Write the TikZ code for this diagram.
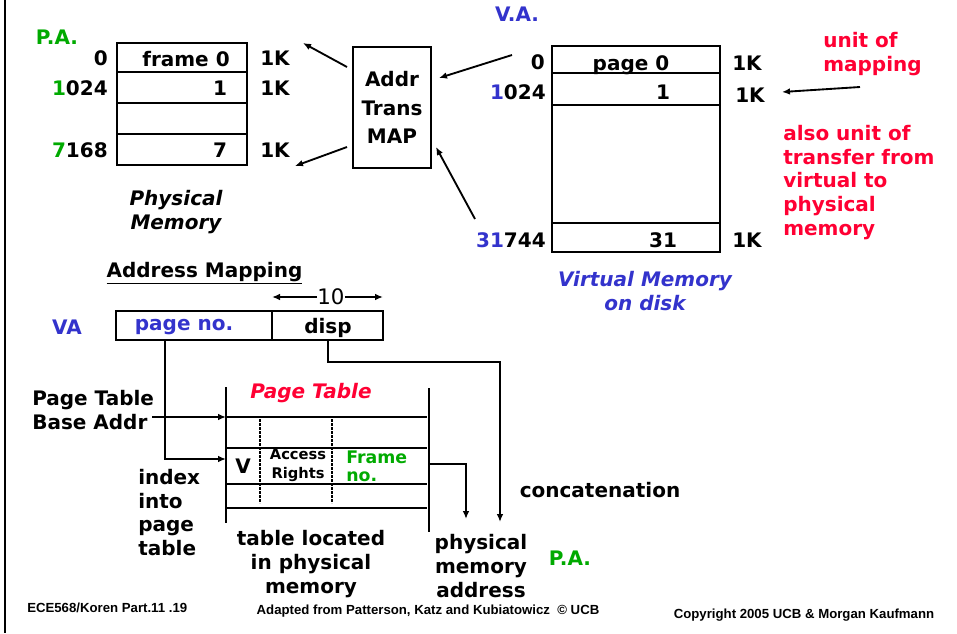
\documentclass[tikz,border=0pt]{standalone}
\usepackage{fontspec}
\setmainfont{DejaVu Sans}
\newfontfamily\arialf{Liberation Sans}
\usetikzlibrary{arrows.meta}
\definecolor{pagreen}{RGB}{0,170,0}
\definecolor{vablue}{RGB}{51,51,204}
\definecolor{rred}{RGB}{255,0,51}
\begin{document}
\begin{tikzpicture}[x=0.75pt,y=-0.75pt,
  txt/.style={inner sep=0pt, font=\fontsize{15}{18}\selectfont\bfseries},
  itx/.style={inner sep=0pt, font=\fontsize{15}{17.5}\selectfont\bfseries\itshape},
  small/.style={inner sep=0pt, font=\fontsize{11}{14}\selectfont\bfseries},
  foot/.style={inner sep=0pt, font=\arialf\fontsize{9.9}{11}\selectfont\bfseries},
  cell/.style={draw, line width=1.5pt, inner sep=0pt},
  conn/.style={line width=1.5pt},
  arr/.style={line width=1.4pt, -{Latex[length=6pt,width=5pt]}},
  ptline/.style={line width=1.6pt},
  dline/.style={line width=1.6pt, dash pattern=on 2pt off 1pt},
]
\useasboundingbox (0,0) rectangle (957,633);
% slide frame edge
\draw[line width=1.6pt] (5,0) -- (5,633);

% ---------- physical memory ----------
\node[txt, text=pagreen] (pa) at (57,37) {P.A.};
\node[cell, minimum width=97.5pt, minimum height=21.75pt] (pm0) at (182,57.5) {};
\node[cell, minimum width=97.5pt, minimum height=23.25pt] (pm1) at (182,87.5) {};
\node[cell, minimum width=97.5pt, minimum height=23.25pt] (pm2) at (182,118.5) {};
\node[cell, minimum width=97.5pt, minimum height=23.25pt] (pm7) at (182,149.5) {};
\node[txt] (pm0t) at (186,59) {frame 0};
\node[txt] (pm1t) at (220,88) {1};
\node[txt] (pm7t) at (220,150) {7};
\node[txt, anchor=east] (pa0) at (108,58) {0};
\node[txt, anchor=east] (pa1) at (108,88) {\textcolor{pagreen}{1}024};
\node[txt, anchor=east] (pa7) at (108,150) {\textcolor{pagreen}{7}168};
\node[txt, anchor=west] (pk0) at (260,58) {1K};
\node[txt, anchor=west] (pk1) at (260,88) {1K};
\node[txt, anchor=west] (pk7) at (260,150) {1K};
\node[itx, align=center] (pmlab) at (176,212) {Physical\\Memory};

% ---------- address translation map ----------
\node[cell, minimum width=58.5pt, minimum height=90.75pt,
      font=\fontsize{15}{21.5}\selectfont\bfseries, align=center] (addr) at (392,107.5) {Addr\\Trans\\MAP};
\coordinate (a1s) at (347,67);
\coordinate (a1e) at (303,43);
\coordinate (a2s) at (347,147);
\coordinate (a2e) at (295,166);
\draw[arr] (a1s) -- (a1e);
\draw[arr] (a2s) -- (a2e);

% ---------- virtual memory ----------
\node[txt, text=vablue] (va) at (517,14) {V.A.};
\node[cell, minimum width=126pt, minimum height=20.25pt] (vm0) at (636,59.5) {};
\node[cell, minimum width=126pt, minimum height=24pt] (vm1) at (636,89) {};
\node[cell, minimum width=126pt, minimum height=88.5pt] (vmm) at (636,164) {};
\node[cell, minimum width=126pt, minimum height=21.75pt] (vm31) at (636,237.5) {};
\node[txt] (vm0t) at (631,65) {page 0};
\node[txt] (vm1t) at (663,92) {1};
\node[txt] (vm31t) at (663,240) {31};
\node[txt, anchor=east] (va0) at (545,62) {0};
\node[txt, anchor=east] (va1) at (546,92) {\textcolor{vablue}{1}024};
\node[txt, anchor=east] (va31) at (546,240) {\textcolor{vablue}{31}744};
\node[txt, anchor=west] (vk0) at (732,63) {1K};
\node[txt, anchor=west] (vk1) at (735,95) {1K};
\node[txt, anchor=west] (vk31) at (732,240) {1K};
\node[itx, text=vablue, align=center] (vmlab) at (645,291) {Virtual Memory\\on disk};
\coordinate (b1s) at (512,55);
\coordinate (b1e) at (439,78);
\coordinate (b2s) at (475,219);
\coordinate (b2e) at (436,147);
\draw[arr] (b1s) -- (b1e);
\draw[arr] (b2s) -- (b2e);

\node[txt, text=rred, align=left, anchor=west] (uom) at (823,54.5) {unit of\\mapping};
\coordinate (c1s) at (860,87);
\coordinate (c1e) at (782,92);
\draw[arr] (c1s) -- (c1e);
\node[txt, text=rred, align=left, anchor=west, font=\fontsize{15}{17.8}\selectfont\bfseries] (also) at (783,182.5)
  {also unit of\\transfer from\\virtual to\\physical\\memory};

% ---------- address mapping ----------
\node[txt] (amap) at (204.5,273) {\underline{Address Mapping}};
\node[inner sep=0pt, font=\fontsize{16}{18}\selectfont] (ten) at (331,297) {10};
\coordinate (tl) at (272,297);
\coordinate (tr) at (383,297);
\draw[arr, line width=1.2pt] (ten.west) -- (tl);
\draw[arr, line width=1.2pt] (ten.east) -- (tr);
\node[txt, text=vablue] (valab) at (67,327) {VA};
\node[cell, minimum width=117pt, minimum height=21.75pt] (pno) at (194,325.5) {};
\node[cell, minimum width=83.25pt, minimum height=21.75pt] (disp) at (327.5,325.5) {};
\node[txt, text=vablue] (pnot) at (184,327) {page no.};
\node[txt] (dispt) at (328,328) {disp};

% ---------- page table ----------
\node[itx, text=rred] (ptlab) at (311,393) {Page Table};
\coordinate (ptl1) at (226,387);
\coordinate (ptl2) at (226,523);
\coordinate (ptr1) at (429,388);
\coordinate (ptr2) at (429,532);
\draw[ptline] (ptl1) -- (ptl2);
\draw[ptline] (ptr1) -- (ptr2);
\coordinate (r1a) at (226,417); \coordinate (r1b) at (427,417);
\coordinate (r2a) at (226,448); \coordinate (r2b) at (427,448);
\coordinate (r3a) at (226,484); \coordinate (r3b) at (427,484);
\coordinate (r4a) at (226,508); \coordinate (r4b) at (427,508);
\draw[ptline] (r1a) -- (r1b);
\draw[ptline] (r2a) -- (r2b);
\draw[ptline] (r3a) -- (r3b);
\draw[ptline] (r4a) -- (r4b);
\coordinate (d1a) at (260,419); \coordinate (d1b) at (260,503);
\coordinate (d2a) at (332,419); \coordinate (d2b) at (332,503);
\draw[dline] (d1a) -- (d1b);
\draw[dline] (d2a) -- (d2b);
\node[txt] (vfl) at (243,466) {V};
\node[small, align=center] (acc) at (298,465.5) {Access\\Rights};
\node[inner sep=0pt, text=pagreen, align=left, anchor=west, font=\fontsize{13}{13.5}\selectfont\bfseries] (frn) at (346,466) {Frame\\no.};

\node[txt, align=left, anchor=west] (ptba) at (32,410.5) {Page Table\\Base Addr};
\coordinate (ptbas) at (152,417);
\draw[arr] (ptbas) -- (r1a);
\coordinate (idxe) at (226,459);
\draw[arr] (pno.south -| 165,0) |- (idxe);
\node[txt, align=left, anchor=west, font=\fontsize{15}{17.8}\selectfont\bfseries] (idx) at (138,512.5) {index\\into\\page\\table};
\node[txt, align=center] (tloc) at (311,564) {table located\\in physical\\memory};

% ---------- physical address ----------
\coordinate (fo1) at (429,464);
\coordinate (fo2) at (466,519);
\draw[arr] (fo1) -| (fo2);
\coordinate (dp2) at (500,522);
\draw[arr] (disp.south -| 328,0) |- (400,362) -| (dp2);
\node[txt] (conc) at (600,490) {concatenation};
\node[txt, align=center] (pma) at (481,566) {physical\\memory\\address};
\node[txt, text=pagreen] (pa2) at (570,558) {P.A.};

% ---------- footer ----------
\node[foot, anchor=west] (f1) at (27,608) {ECE568/Koren Part.11 .19};
\node[foot] (f2) at (428,611) {Adapted from Patterson, Katz and Kubiatowicz \ \textcopyright\ UCB};
\node[foot] (f3) at (804,615) {Copyright 2005 UCB \& Morgan Kaufmann};
\end{tikzpicture}
\end{document}
